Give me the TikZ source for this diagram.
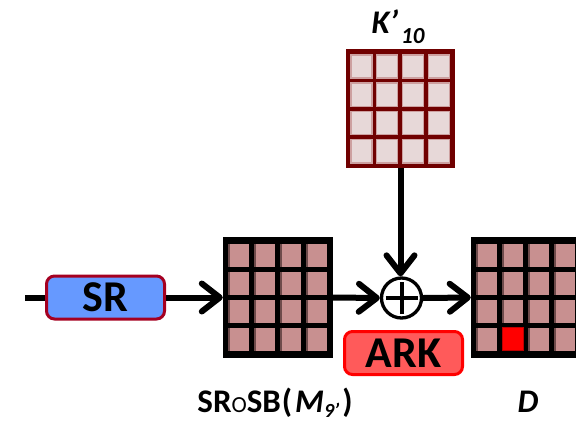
\documentclass[tikz,border=0pt]{standalone}
\usepackage{fontspec}
\setmainfont{Carlito}
\usetikzlibrary{arrows.meta}
\definecolor{srfill}{RGB}{102,153,255}
\definecolor{srborder}{RGB}{165,0,33}
\definecolor{arkfill}{RGB}{255,90,90}
\definecolor{arkborder}{RGB}{255,0,0}
\definecolor{cellpink}{RGB}{200,144,144}
\definecolor{celledge}{RGB}{110,75,75}
\definecolor{kborder}{RGB}{112,0,0}
\definecolor{kcell}{RGB}{231,216,216}
\definecolor{kcelledge}{RGB}{205,160,160}
\definecolor{redcell}{RGB}{255,0,0}
\definecolor{redcelledge}{RGB}{190,0,0}
\tikzset{
  conn/.style={line width=6pt, -{Straight Barb[length=18pt,width=28pt,round]}},
  plainline/.style={line width=6pt},
  opbox/.style={rectangle, rounded corners=8pt, line width=3pt, minimum width=118pt, minimum height=43pt, inner sep=0pt, font=\fontsize{44}{44}\selectfont\bfseries},
  srbox/.style={opbox, draw=srborder, fill=srfill},
  arkbox/.style={opbox, draw=arkborder, fill=arkfill},
  matbox/.style={rectangle, inner sep=0pt, draw=none, minimum width=110pt, minimum height=121pt, fill=black},
  kmatbox/.style={rectangle, inner sep=0pt, draw=none, minimum width=109pt, minimum height=119pt, fill=kborder},
  xorc/.style={circle, draw=black, fill=white, line width=3.3pt, minimum size=40pt, inner sep=0pt},
  lbl/.style={inner sep=0pt, font=\fontsize{33}{33}\selectfont\bfseries},
}
\begin{document}
\begin{tikzpicture}[x=1pt,y=-1pt]
\useasboundingbox (0,0) rectangle (576,421);
% matrices
\node[kmatbox] (kmat) at (400.5,108.5) {};
\foreach \i in {0,...,3}{\foreach \j in {0,...,3}{
  \filldraw[fill=kcell, draw=kcelledge, line width=1.5pt]
    ([xshift={5pt+\i*25.9pt}, yshift={-6pt-\j*28.3pt}]kmat.north west) rectangle ++(21pt,-23.3pt);
}}
\node[matbox] (smat) at (278,297.5) {};
\node[matbox] (dmat) at (526,297.5) {};
\foreach \m in {smat,dmat}{
\foreach \i in {0,...,3}{\foreach \j in {0,...,3}{
  \fill[cellpink] ([xshift={5.3pt+\i*26.1pt}, yshift={-7pt-\j*27.9pt}]\m.north west) rectangle ++(21pt,-23pt);
  \fill[celledge] ([xshift={5.3pt+\i*26.1pt}, yshift={-7pt-\j*27.9pt}]\m.north west) rectangle ++(2pt,-23pt);
}}}
\filldraw[fill=redcell, draw=redcelledge, line width=1pt]
  ([xshift={5.3pt+1*26.1pt}, yshift={-7pt-3*27.9pt}]dmat.north west) rectangle ++(21pt,-23pt);
% operation boxes
\node[srbox] (sr) at (105.5,297.5) {SR};
\node[arkbox] (ark) at (403.5,353) {ARK};
% xor
\node[xorc] (xor) at (401.5,298) {};
\draw[line width=4pt] ([xshift=-16pt]xor.center) -- ([xshift=16pt]xor.center);
\draw[line width=4pt] ([yshift=-16pt]xor.center) -- ([yshift=16pt]xor.center);
% connectors
\coordinate (in) at (25,297.5);
\draw[plainline] (in) -- (sr.west);
\draw[conn] (sr.east) -- (smat.west);
\draw[conn] (smat.east) -- (xor.west);
\draw[conn] (xor.east) -- (dmat.west);
\draw[conn] (kmat.south) -- (kmat.south |- xor.north);
% labels
\node[lbl, anchor=base] (klbl) at (398,33) {\itshape K’\hspace{3pt}\raisebox{-10pt}{\fontsize{23}{23}\selectfont 10}};
\node[lbl, anchor=base] (slbl) at (275,412) {SR{\mdseries\fontsize{23}{23}\selectfont O}SB\hspace{1pt}(\hspace{3pt}\textit{M}\raisebox{-5pt}{\fontsize{20}{20}\selectfont\itshape 9’}\hspace{3pt})};
\node[lbl, anchor=base] (dlbl) at (528,412) {\itshape D};
\end{tikzpicture}
\end{document}
